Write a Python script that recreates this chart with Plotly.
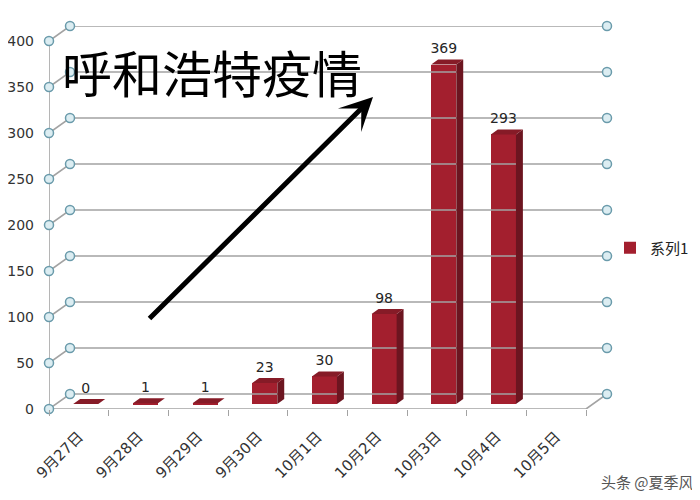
import plotly.graph_objects as go

categories = ["9月27日", "9月28日", "9月29日", "9月30日", "10月1日",
              "10月2日", "10月3日", "10月4日", "10月5日"]
values = [0, 1, 1, 23, 30, 98, 369, 293, None]
series_name = "系列1"
y_ticks = [0, 50, 100, 150, 200, 250, 300, 350, 400]
title_text = "呼和浩特疫情"
watermark = "头条 @夏季风"

# oblique "3D" projection parameters (depth offset in axis units)
DX = 0.352
DY = 16.3
F0 = 0.33      # depth of bar front face
FD = 0.33      # bar depth
BW = 0.42      # bar width
LABEL_PAD = 3.0

W, H = 700, 500
OFF = 8        # page body margin compensation (pixels)


def px(x):
    return (x - OFF) / W


def py(y):
    return (H - (y - OFF)) / H


GRAY = "#a3a3a3"
FRONT = "#a31f2e"
SIDE = "#6c1520"
TOP = "#861b27"

fig = go.Figure()

# frame / walls lines
lx, ly = [], []
n = len(categories)
xl, xr = -0.5, n - 0.5
for v in y_ticks:
    lx += [xl, xl + DX, xr + DX, None]
    ly += [v, v + DY, v + DY, None]
lx += [xl, xl, None, xl, xr, xr + DX, None]
ly += [0, max(y_ticks), None, 0, 0, DY, None]
fig.add_trace(go.Scatter(x=lx, y=ly, mode="lines", line=dict(color=GRAY, width=1.6),
                         hoverinfo="skip", showlegend=False, cliponaxis=False))

# bars: side and top faces
sx, sy, tx, ty = [], [], [], []
bx, by, lab_x, lab_y, lab_t = [], [], [], [], []
b0 = F0 * DY
for i, v in enumerate(values):
    if v is None:
        continue
    c = i + F0 * DX
    x0, x1 = c - BW / 2, c + BW / 2
    dx, dy = FD * DX, FD * DY
    sx += [x1, x1 + dx, x1 + dx, x1, x1, None]
    sy += [b0, b0 + dy, b0 + v + dy, b0 + v, b0, None]
    tx += [x0, x1, x1 + dx, x0 + dx, x0, None]
    ty += [b0 + v, b0 + v, b0 + v + dy, b0 + v + dy, b0 + v, None]
    bx.append(c)
    by.append(v)
    lab_x.append(c)
    lab_y.append(b0 + v + dy + LABEL_PAD)
    lab_t.append(str(v))

fig.add_trace(go.Bar(x=bx, y=by, base=b0, width=BW, name=series_name,
                     marker=dict(color=FRONT, line=dict(width=0)), showlegend=True))
fig.add_trace(go.Scatter(x=sx, y=sy, fill="toself", fillcolor=SIDE, mode="lines",
                         line=dict(width=0, color=SIDE), hoverinfo="skip", showlegend=False))
fig.add_trace(go.Scatter(x=tx, y=ty, fill="toself", fillcolor=TOP, mode="lines",
                         line=dict(width=0, color=TOP), hoverinfo="skip", showlegend=False))

# data labels
fig.add_trace(go.Scatter(x=lab_x, y=lab_y, mode="text", text=lab_t, textposition="top center",
                         textfont=dict(family="DejaVu Sans", size=14, color="#262626"),
                         hoverinfo="skip", showlegend=False, cliponaxis=False))

# wall corner circles
cx, cy = [], []
for v in y_ticks:
    cx += [xl, xl + DX, xr + DX]
    cy += [v, v + DY, v + DY]
fig.add_trace(go.Scatter(x=cx, y=cy, mode="markers",
                         marker=dict(size=9, color="#dcedf2", line=dict(color="#6a9bab", width=1.5)),
                         hoverinfo="skip", showlegend=False, cliponaxis=False))

fig.update_layout(
    width=W, height=H,
    margin=dict(l=0, r=0, t=0, b=0, autoexpand=False),
    paper_bgcolor="white", plot_bgcolor="white",
    bargap=0,
    xaxis=dict(domain=[px(49), px(607)], range=[xl, xr + DX],
               tickmode="array", tickvals=list(range(n)), ticktext=categories,
               tickangle=-45, ticks="", showgrid=False, zeroline=False, showline=False,
               ticklabelstandoff=15,
               tickfont=dict(family="DejaVu Sans, Noto Sans CJK SC", size=15, color="#333333"),
               minor=dict(tickmode="array", tickvals=[xl + k for k in range(n + 1)],
                          ticks="outside", ticklen=6, tickcolor=GRAY, tickwidth=1.2)),
    yaxis=dict(domain=[py(409), py(26)], range=[0, max(y_ticks) + DY],
               tickmode="array", tickvals=y_ticks, ticks="", showgrid=False,
               zeroline=False, showline=False, ticklabelstandoff=14,
               tickfont=dict(family="DejaVu Sans", size=14, color="#333333")),
    legend=dict(x=px(610), y=py(248), xanchor="left", yanchor="middle",
                bgcolor="rgba(0,0,0,0)", borderwidth=0,
                font=dict(family="Noto Sans CJK SC", size=15, color="#222222")),
    annotations=[
        dict(text=title_text, x=px(60), y=py(71), xref="paper", yref="paper",
             xanchor="left", yanchor="middle", showarrow=False,
             font=dict(family="Noto Sans CJK SC", size=50, color="#000000")),
        dict(text="", x=px(373), y=py(97), xref="paper", yref="paper",
             ax=-225, ay=223, axref="pixel", ayref="pixel", showarrow=True,
             arrowhead=3, arrowsize=1.1, arrowwidth=5, arrowcolor="#000000"),
        dict(text=watermark, x=px(696), y=py(481), xref="paper", yref="paper",
             xanchor="right", yanchor="middle", showarrow=False,
             font=dict(family="Noto Sans CJK SC", size=15, color="#555555")),
    ],
)

fig.write_html("out.html")
